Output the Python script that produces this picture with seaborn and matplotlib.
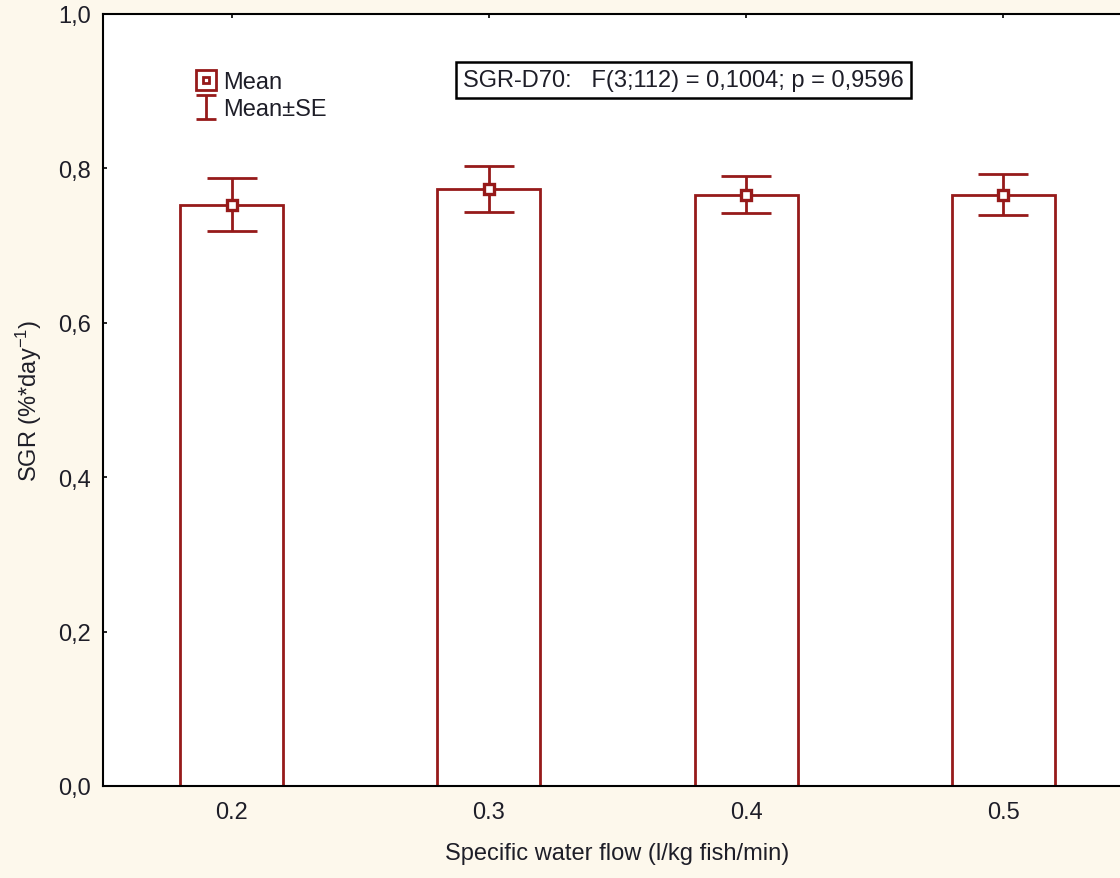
import matplotlib
matplotlib.use("Agg")
import matplotlib.pyplot as plt
import seaborn as sns
import pandas as pd
import numpy as np
from matplotlib.lines import Line2D

# Data
flows = ["0.2", "0.3", "0.4", "0.5"]
sgr_mean = [0.753, 0.773, 0.766, 0.766]
sgr_se = [0.034, 0.030, 0.024, 0.027]
y_ticks = [0.0, 0.2, 0.4, 0.6, 0.8, 1.0]
y_ticklabels = ["0,0", "0,2", "0,4", "0,6", "0,8", "1,0"]

df = pd.DataFrame({"flow": flows, "sgr": sgr_mean, "se": sgr_se})

sns.set_style("white")
plt.rcParams["font.family"] = ["Liberation Sans", "DejaVu Sans"]
plt.rcParams["mathtext.fontset"] = "custom"
plt.rcParams["mathtext.rm"] = "Liberation Sans"
plt.rcParams["mathtext.it"] = "Liberation Sans"

red = "#961a1a"
txt = "#1e1e28"
bg = "#fdf8ec"
fs = 17

fig = plt.figure(figsize=(11.2, 8.79), dpi=100, facecolor=bg)
ax = fig.add_axes([0.092, 0.1047, 0.9187, 0.8783])
ax.set_facecolor("white")

sns.barplot(data=df, x="flow", y="sgr", color="white", edgecolor=red,
            linewidth=2, width=0.4, errorbar=None, ax=ax)

# SE error bars and mean markers
ax.errorbar(range(len(flows)), df["sgr"], yerr=df["se"], fmt="none",
            ecolor=red, elinewidth=2, capsize=18, capthick=2, zorder=3)
ax.plot(range(len(flows)), df["sgr"], "s", color=red, markersize=6.5,
        markerfacecolor="white", markeredgewidth=2.4, zorder=4)

ax.set_xlim(-0.5, 3.5)
ax.set_ylim(0, 1.0)
ax.set_yticks(y_ticks)
ax.set_yticklabels(y_ticklabels)

for s in ax.spines.values():
    s.set_color("black")
    s.set_linewidth(1.5)

ax.tick_params(direction="in", length=3, width=1.2, colors="black",
               labelcolor=txt, labelsize=fs, top=True, left=True, bottom=True)
ax.tick_params(axis="x", pad=10.5)
ax.tick_params(axis="y", pad=9)

ax.set_xlabel("Specific water flow (l/kg fish/min)", fontsize=fs, color=txt, labelpad=14)
ax.set_ylabel("SGR (%*day$^{-1}$)", fontsize=fs, color=txt, labelpad=10)

# Legend
mean_outer = Line2D([], [], marker="s", linestyle="none", markersize=14,
                    markerfacecolor="white", markeredgecolor=red, markeredgewidth=2)
mean_inner = Line2D([], [], marker="s", linestyle="none", markersize=5,
                    markerfacecolor="white", markeredgecolor=red, markeredgewidth=2)
se_handle = ax.errorbar([0], [np.nan], yerr=[0.01], fmt="none", ecolor=red,
                        elinewidth=2, capsize=7, capthick=2)
leg = ax.legend([(mean_outer, mean_inner), se_handle], ["Mean", "Mean\u00b1SE"],
                loc="upper left", bbox_to_anchor=(0.078, 0.941), frameon=False,
                fontsize=fs, handlelength=0.9, handletextpad=0.3,
                labelspacing=0.2, borderpad=0, labelcolor=txt)

ax.text(0.5637, 0.9145, "SGR-D70:   F(3;112) = 0,1004; p = 0,9596",
        transform=ax.transAxes, ha="center", va="center", fontsize=fs, color=txt,
        bbox=dict(boxstyle="square,pad=0.3", facecolor="white",
                  edgecolor="black", linewidth=1.8))

fig.savefig("out.png", dpi=100, facecolor=bg)
